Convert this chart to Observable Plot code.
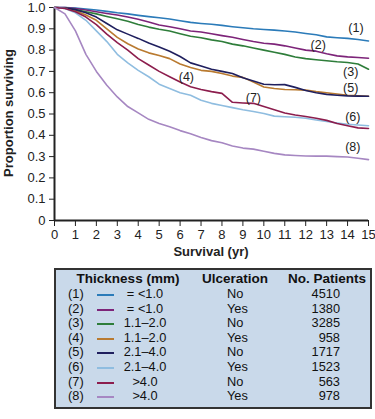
<!DOCTYPE html>
<html>
<head>
<meta charset="utf-8">
<script src="https://cdn.jsdelivr.net/npm/d3@7"></script>
<script src="https://cdn.jsdelivr.net/npm/@observablehq/plot@0.6"></script>
<style>
  body { margin: 0; background: #fff; font-family: "Liberation Sans", Arial, sans-serif; }
  #chart svg { display: block; }
  #legend { position: absolute; left: 54px; top: 268px; width: 314px; height: 137px;
            background: #c9d9ea; border: 2px solid #333; font-size: 12.8px; color: #111; }
  #legend span { position: absolute; white-space: nowrap; line-height: 14px; }
  #legend .hdr { font-weight: bold; font-size: 13.5px; }
  #legend .sw { height: 2px; width: 17px; }
</style>
</head>
<body>
<div id="chart"></div>
<div id="legend"></div>
<script>
// Survival time grid (years)
const years = [0,0.5,1,1.5,2,2.5,3,3.5,4,4.5,5,5.5,6,6.5,7,7.5,8,8.5,9,9.5,10,10.5,11,11.5,12,12.5,13,13.5,14,14.5,15];

// Proportion surviving for each group
const s1 = [1.0,1.0,0.998,0.993,0.988,0.982,0.975,0.97,0.963,0.957,0.952,0.946,0.938,0.93,0.925,0.921,0.916,0.91,0.905,0.9,0.897,0.894,0.89,0.885,0.878,0.872,0.862,0.858,0.855,0.85,0.843];
const s2 = [1.0,1.0,0.995,0.988,0.98,0.972,0.965,0.955,0.945,0.932,0.918,0.91,0.9,0.89,0.885,0.877,0.868,0.86,0.85,0.84,0.832,0.828,0.82,0.81,0.8,0.795,0.783,0.773,0.768,0.765,0.762];
const s3 = [1.0,0.998,0.99,0.98,0.97,0.958,0.947,0.935,0.92,0.908,0.898,0.89,0.877,0.865,0.858,0.848,0.84,0.828,0.82,0.81,0.8,0.79,0.78,0.768,0.76,0.755,0.75,0.745,0.742,0.735,0.71];
const s4 = [1.0,0.997,0.985,0.965,0.94,0.9,0.86,0.83,0.805,0.787,0.775,0.76,0.735,0.718,0.705,0.7,0.69,0.678,0.672,0.65,0.627,0.62,0.615,0.614,0.612,0.605,0.6,0.594,0.588,0.585,0.583];
const s5 = [1.0,0.998,0.99,0.975,0.955,0.925,0.895,0.875,0.855,0.833,0.815,0.795,0.77,0.74,0.725,0.71,0.7,0.69,0.67,0.655,0.64,0.637,0.638,0.625,0.61,0.6,0.592,0.588,0.585,0.584,0.583];
const s6 = [1.0,0.995,0.975,0.94,0.89,0.84,0.78,0.74,0.705,0.675,0.64,0.62,0.6,0.588,0.565,0.55,0.54,0.53,0.52,0.512,0.502,0.49,0.487,0.485,0.48,0.472,0.465,0.458,0.452,0.448,0.445];
const s7 = [1.0,0.995,0.98,0.955,0.92,0.875,0.835,0.8,0.76,0.73,0.7,0.675,0.65,0.628,0.615,0.605,0.597,0.555,0.552,0.55,0.535,0.52,0.505,0.495,0.488,0.48,0.47,0.455,0.445,0.435,0.432];
const s8 = [1.0,0.97,0.89,0.78,0.7,0.635,0.58,0.535,0.505,0.475,0.455,0.44,0.422,0.407,0.39,0.375,0.365,0.35,0.34,0.335,0.325,0.315,0.308,0.305,0.303,0.302,0.302,0.3,0.298,0.292,0.286];

const series = [s1,s2,s3,s4,s5,s6,s7,s8];
const groupLabels = ["(1)","(2)","(3)","(4)","(5)","(6)","(7)","(8)"];
const colors = ["#2b7bb9","#7d2479","#2e7d3a","#b97a30","#1f1f5e","#8fbde0","#8c1d4d","#a687c2"];

// label positions for each curve
const labelYears  = [14.4, 12.6, 14.15, 6.3, 14.15, 14.25, 9.5, 14.25];
const labelValues = [0.906, 0.822, 0.695, 0.676, 0.62, 0.488, 0.577, 0.347];

// legend table
const thickness = ["= <1.0","= <1.0","1.1\u20132.0","1.1\u20132.0","2.1\u20134.0","2.1\u20134.0",">4.0",">4.0"];
const ulceration = ["No","Yes","No","Yes","No","Yes","No","Yes"];
const patients = [4510,1380,3285,958,1717,1523,563,978];

const xTicks = d3.range(0,16);
const yTicks = [0,0.1,0.2,0.3,0.4,0.5,0.6,0.7,0.8,0.9,1.0];

const rows = [];
series.forEach((s,i) => s.forEach((v,j) => rows.push({t: years[j], p: v, g: groupLabels[i]})));
const labels = groupLabels.map((g,i) => ({g, t: labelYears[i], p: labelValues[i]}));

const chart = Plot.plot({
  width: 375,
  height: 262,
  marginLeft: 54,
  marginRight: 7,
  marginTop: 7,
  marginBottom: 42,
  style: {fontFamily: "Liberation Sans, Arial, sans-serif", fontSize: "12.5px", color: "#222"},
  x: {domain: [0,15], label: null},
  y: {domain: [0,1], label: null},
  color: {domain: groupLabels, range: colors},
  marks: [
    Plot.axisX({ticks: xTicks, tickFormat: d => String(d), label: null, tickSize: 6, tickPadding: 3, fontSize: 13, stroke: "#222"}),
    Plot.axisY({ticks: yTicks, tickFormat: d => d === 0 ? "0" : d.toFixed(1), label: null, tickSize: 5, tickPadding: 4, fontSize: 13, stroke: "#222"}),
    Plot.ruleX([0], {stroke: "#222", strokeWidth: 2}),
    Plot.ruleY([0], {stroke: "#222", strokeWidth: 2}),
    Plot.line(rows, {x: "t", y: "p", z: "g", stroke: "g", strokeWidth: 1.6}),
    Plot.text(labels, {x: "t", y: "p", text: "g", fontSize: 12.5, fill: "#222"})
  ]
});
document.getElementById("chart").appendChild(chart);

// axis titles
const svg = d3.select(chart);
svg.append("text").attr("x", 211).attr("y", 256).attr("text-anchor", "middle")
  .attr("font-weight", "bold").attr("font-size", 13).attr("fill", "#222").text("Survival (yr)");
svg.append("text").attr("transform", "translate(13,113) rotate(-90)").attr("text-anchor", "middle")
  .attr("font-weight", "bold").attr("font-size", 13).attr("fill", "#222").text("Proportion surviving");

// legend
const leg = document.getElementById("legend");
function span(txt, cls, style) {
  const s = document.createElement("span");
  if (cls) s.className = cls;
  s.textContent = txt;
  Object.assign(s.style, style);
  leg.appendChild(s);
  return s;
}
span("Thickness (mm)", "hdr", {left: "72px", top: "2px", width: "0", display:"flex", justifyContent:"center"});
span("Ulceration", "hdr", {left: "179px", top: "2px", width: "0", display:"flex", justifyContent:"center"});
span("No. Patients", "hdr", {left: "271px", top: "2px", width: "0", display:"flex", justifyContent:"center"});
groupLabels.forEach((g,i) => {
  const top = 17 + i * 14.6;
  span(g, null, {left: "12px", top: top + "px"});
  span("", "sw", {left: "41px", top: (top + 7) + "px", background: colors[i]});
  span(thickness[i], null, {left: "89px", top: top + "px", width: "0", display:"flex", justifyContent:"center"});
  span(ulceration[i], null, {left: "171px", top: top + "px"});
  span(String(patients[i]), null, {right: "30px", top: top + "px"});
});
</script>
</body>
</html>
